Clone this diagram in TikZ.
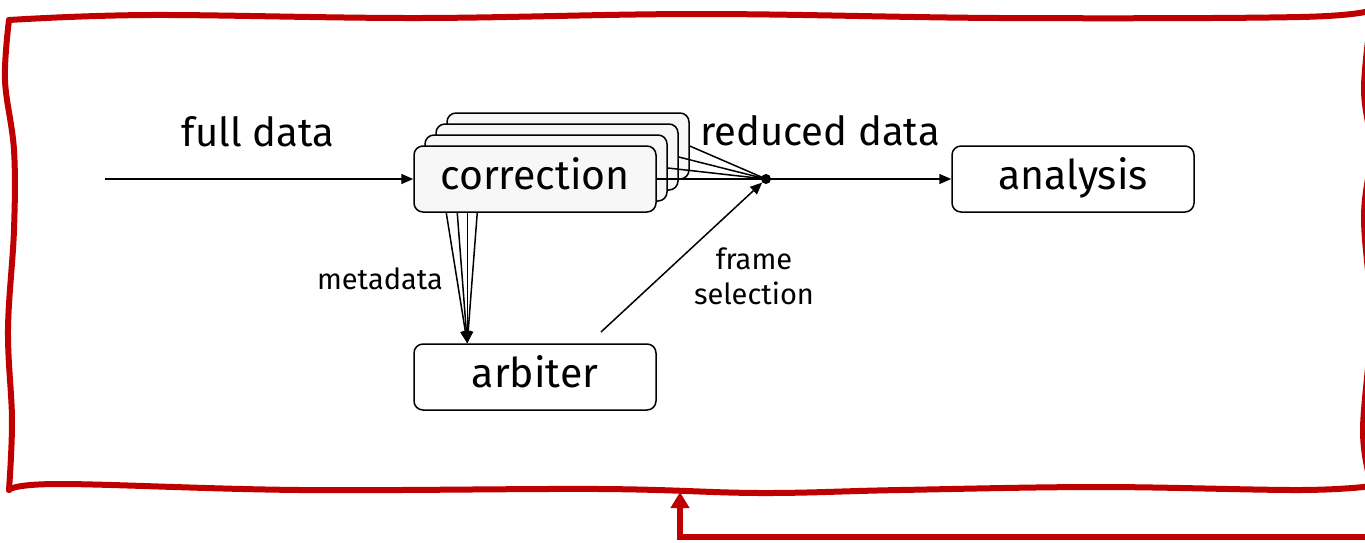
\documentclass[tikz,border=0pt]{standalone}
\usepackage{fontspec}
\setmainfont{Fira Sans}
\usetikzlibrary{arrows.meta,calc}
\definecolor{framered}{HTML}{C00000}
\definecolor{boxgray}{HTML}{F7F7F7}
\begin{document}
\begin{tikzpicture}[x=1pt,y=-1pt,
  blk/.style={draw=black,line width=1.5pt,rounded corners=9pt,minimum width=242pt,minimum height=66pt,inner sep=0pt,text height=29pt,text depth=9pt,font=\fontsize{41}{48}\selectfont},
  stk/.style={blk,fill=boxgray},
  wbox/.style={blk,fill=white},
  conn/.style={line width=1.5pt},
  arr/.style={conn,-{Triangle[length=12pt,width=10pt]}},
  biglbl/.style={font=\fontsize{40}{48}\selectfont,inner sep=0pt},
  smalllbl/.style={font=\fontsize{29}{35}\selectfont,inner sep=0pt,align=center},
  redline/.style={draw=framered,line width=6pt,line cap=round,line join=round}
]
\useasboundingbox (0,0) rectangle (1365,542);
\fill[white] (0,0) rectangle (1365,542);

% red hand-drawn frame
\draw[redline] plot[smooth,tension=0.6] coordinates {(9,20) (150,15) (420,18) (700,14) (1000,18) (1300,17) (1372,10)};
\draw[redline] plot[smooth,tension=0.6] coordinates {(1372,10) (1364,88) (1371,150) (1364,218) (1371,320) (1363,432) (1372,486)};
\draw[redline] plot[smooth,tension=0.6] coordinates {(1372,486) (1300,490) (1100,487) (900,490) (760,493) (600,489) (300,490) (60,484) (9,490)};
\draw[redline] plot[smooth,tension=0.6] coordinates {(9,490) (12,420) (8,330) (14,230) (14,150) (5,80) (9,20)};

% red feedback arrow
\coordinate (ra0) at (1372,537);
\coordinate (ra1) at (680,537);
\coordinate (ra2) at (680,492);
\draw[draw=framered,line width=6pt,-{Triangle[length=16pt,width=18pt]}] (ra0) -- (ra1) -- (ra2);

% correction stack
\node[stk] (c3) at (568,146) {};
\node[stk] (c2) at (557,157) {};
\node[stk] (c1) at (546,168) {};
\node[stk] (c0) at (535,179) {correction};

\node[wbox] (ana) at (1073,179) {analysis};
\node[wbox] (arb) at (535,377) {arbiter};

\node[circle,fill=black,inner sep=0pt,minimum size=10pt] (dot) at (766,179) {};

% labels
\node[biglbl] (lfull) at (258,132) {full data};
\node[biglbl] (lred) at (820,131) {reduced data};
\node[smalllbl] (lmeta) at (380,279) {metadata};
\node[smalllbl] (lframe) at (754,276) {frame\\selection};

% full data input
\coordinate (in) at (105,179);
\draw[arr] (in) -- (c0.west);

% stack to dot
\foreach \b in {c0,c1,c2,c3} \draw[conn] (\b.east) -- (dot.center);
\draw[arr] (dot.center) -- (ana.west);

% metadata
\coordinate (mt) at ($(arb.north west)+(54,0)$);
\foreach \dx in {33,44,54,64} {
  \coordinate (ms) at ($(c0.south west)+(\dx,0)$);
  \draw[arr] (ms) -- (mt);
}

% frame selection
\coordinate (fs) at (601,332);
\draw[arr] (fs) -- (dot);
\end{tikzpicture}
\end{document}
